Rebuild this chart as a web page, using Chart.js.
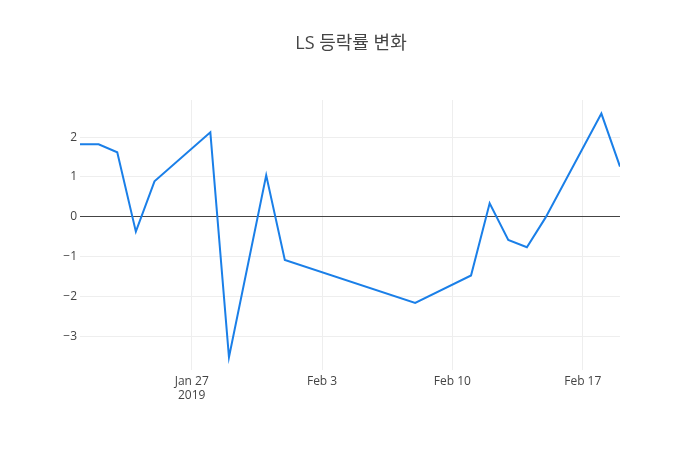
<!DOCTYPE html>
<html>
<head>
<meta charset="utf-8">
<script src="https://cdn.jsdelivr.net/npm/chart.js@4"></script>
<style>
  html, body { margin: 0; padding: 0; background: #fff; }
  #wrap { width: 700px; height: 450px; }
</style>
</head>
<body>
<div id="wrap"><canvas id="chart" width="700" height="450"></canvas></div>
<script>
// trading days (2019) and daily change in %
const dates = ['2019-01-21', '2019-01-22', '2019-01-23', '2019-01-24', '2019-01-25',
  '2019-01-28', '2019-01-29', '2019-01-31', '2019-02-01', '2019-02-08',
  '2019-02-11', '2019-02-12', '2019-02-13', '2019-02-14', '2019-02-15',
  '2019-02-18', '2019-02-19'];
const changes = [1.82, 1.82, 1.62, -0.37, 0.89, 2.12, -3.52, 1.04, -1.08, -2.16,
  -1.47, 0.34, -0.58, -0.76, -0.02, 2.59, 1.26];
const tickDates = ['2019-01-27', '2019-02-03', '2019-02-10', '2019-02-17'];
const tickLabels = [['Jan 27', '2019'], 'Feb 3', 'Feb 10', 'Feb 17'];
const yTicks = [-3, -2, -1, 0, 1, 2];
const titleText = 'LS 등락률 변화';

const toMs = s => Date.parse(s + 'T00:00:00Z');
const points = dates.map((d, i) => ({ x: toMs(d), y: changes[i] }));
const tickMs = tickDates.map(toMs);

const fontFamily = '"Open Sans", "Noto Sans CJK KR", sans-serif';

const titlePlugin = {
  id: 'plotTitle',
  afterDraw(chart) {
    const ctx = chart.ctx;
    ctx.save();
    ctx.font = '18px "Open Sans", "Noto Sans CJK KR", sans-serif';
    ctx.fillStyle = '#444';
    ctx.textAlign = 'center';
    ctx.textBaseline = 'middle';
    ctx.fillText(titleText, 351, 44);
    ctx.restore();
  }
};

new Chart(document.getElementById('chart'), {
  type: 'line',
  data: {
    datasets: [{
      data: points,
      borderColor: '#1a7fe8',
      borderWidth: 2,
      pointRadius: 0,
      tension: 0,
      fill: false
    }]
  },
  options: {
    responsive: false,
    animation: false,
    layout: { padding: { top: 100, right: 80, left: 0, bottom: 0 } },
    plugins: {
      legend: { display: false },
      tooltip: { enabled: false }
    },
    scales: {
      x: {
        type: 'linear',
        min: toMs(dates[0]),
        max: toMs(dates[dates.length - 1]),
        afterBuildTicks: scale => { scale.ticks = tickMs.map(v => ({ value: v })); },
        afterFit: scale => { scale.height = 80; },
        border: { display: false },
        grid: { color: '#eee', drawTicks: false },
        ticks: {
          padding: 4,
          maxRotation: 0,
          autoSkip: false,
          color: '#444',
          font: { family: fontFamily, size: 12 },
          callback: value => tickLabels[tickMs.indexOf(value)]
        }
      },
      y: {
        min: -3.84,
        max: 2.93,
        afterBuildTicks: scale => { scale.ticks = yTicks.map(v => ({ value: v })); },
        afterFit: scale => { scale.width = 80; },
        border: { display: false },
        grid: {
          drawTicks: false,
          color: ctx => ctx.tick && ctx.tick.value === 0 ? '#444' : '#eee'
        },
        ticks: {
          padding: 3,
          color: '#444',
          font: { family: fontFamily, size: 12 },
          callback: v => (v < 0 ? '\u2212' + Math.abs(v) : String(v))
        }
      }
    }
  },
  plugins: [titlePlugin]
});
</script>
</body>
</html>
